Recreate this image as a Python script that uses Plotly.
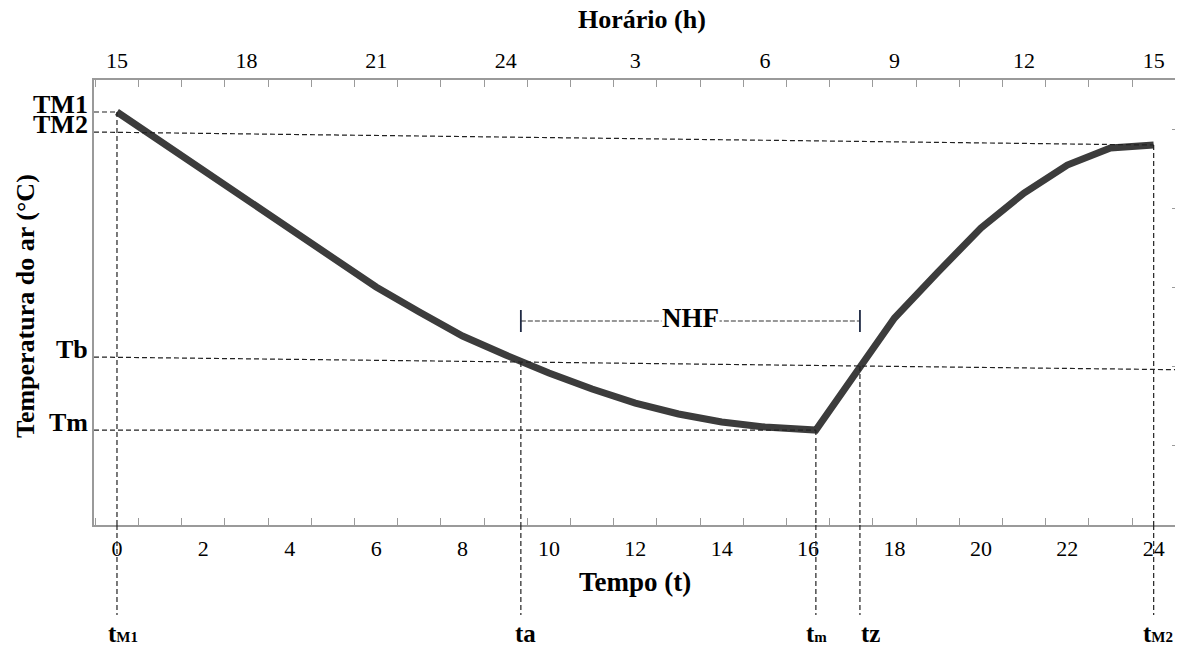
import plotly.graph_objects as go

# ---------------- data ----------------
tempo = [0, 1, 2, 3, 4, 5, 6, 7, 8, 9, 10, 11, 12, 13, 14, 15, 16, 16.18,
         17, 18, 19, 20, 21, 22, 23, 24]
temperatura = [5.215, 4.848, 4.482, 4.116, 3.737, 3.371, 3.005, 2.689, 2.386,
               2.146, 1.919, 1.717, 1.540, 1.402, 1.301, 1.237, 1.206, 1.199,
               1.836, 2.614, 3.190, 3.750, 4.192, 4.545, 4.760, 4.798]

bottom_tickvals = [0, 2, 4, 6, 8, 10, 12, 14, 16, 18, 20, 22, 24]
bottom_ticktext = [str(v) for v in bottom_tickvals]
top_tickvals = [0, 3, 6, 9, 12, 15, 18, 21, 24]
top_ticktext = ["15", "18", "21", "24", "3", "6", "9", "12", "15"]
minor_tickvals = [i + 0.5 for i in range(-1, 25)]
right_tickvals = [1, 2, 3, 4, 5]

# characteristic times
t_M1, t_a, t_m, t_z, t_M2 = 0.0, 9.35, 16.18, 17.2, 24.0
# characteristic temperature levels
TM1 = 5.215
TM2_left = 4.962
Tb_left, Tb_right = 2.121, 1.961
Tm = 1.199
NHF_level = 2.576
NHF_bar = (2.437, 2.715)

xmin, xmax = -0.532, 24.54
ymin, ymax = 0.0, 5.619

labels_y = ["TM1", "TM2", "Tb", "Tm"]
labels_y_vals = [TM1, TM2_left, Tb_left, Tm]
labels_t = ["t<span style='font-size:15px'>M1</span>", "ta",
            "t<span style='font-size:15px'>m</span>", "tz",
            "t<span style='font-size:15px'>M2</span>"]
labels_t_vals = [t_M1, t_a, t_m, t_z, t_M2]
labels_t_shift = [6, 5, 1, 11, 4]   # pixel nudges, as in the reference

SERIF = "Liberation Serif"
GRAY = "#9a9a9a"
DASH = dict(color="#222222", width=1.2, dash="5px,3px")


def tb_at(t):
    return Tb_left + (Tb_right - Tb_left) * (t - xmin) / (xmax - xmin)


fig = go.Figure()
fig.add_trace(go.Scatter(x=tempo, y=temperatura, mode="lines",
                         line=dict(color="#3c3c3c", width=7),
                         showlegend=False, hoverinfo="skip"))
fig.add_trace(go.Scatter(x=tempo, y=temperatura, mode="lines", xaxis="x2",
                         line=dict(width=0), opacity=0,
                         showlegend=False, hoverinfo="skip"))

shapes = []
# horizontal reference lines
shapes.append(dict(type="line", xref="x", yref="y", x0=xmin, x1=t_M1,
                   y0=TM1, y1=TM1, line=DASH))
shapes.append(dict(type="line", xref="x", yref="y", x0=xmin, x1=t_M2,
                   y0=TM2_left, y1=temperatura[-1], line=DASH))
shapes.append(dict(type="line", xref="x", yref="y", x0=xmin, x1=xmax,
                   y0=Tb_left, y1=Tb_right, line=DASH))
shapes.append(dict(type="line", xref="x", yref="y", x0=xmin, x1=t_m,
                   y0=Tm, y1=Tm, line=DASH))
# vertical reference lines
tops = [TM1, tb_at(t_a), Tm, tb_at(t_z), temperatura[-1]]
for t, top in zip(labels_t_vals, tops):
    shapes.append(dict(type="line", xref="x", yref="y", x0=t, x1=t,
                       y0=top, y1=ymin, line=DASH))
    shapes.append(dict(type="line", xref="x", yref="paper", x0=t, x1=t,
                       y0=0, y1=-0.202, line=DASH))
# NHF bracket
shapes.append(dict(type="line", xref="x", yref="y", x0=t_a, x1=t_z,
                   y0=NHF_level, y1=NHF_level,
                   line=dict(color="#333333", width=1.2, dash="5px,2px")))
for t in (t_a, t_z):
    shapes.append(dict(type="line", xref="x", yref="y", x0=t, x1=t,
                       y0=NHF_bar[0], y1=NHF_bar[1],
                       line=dict(color="#1f2a44", width=1.8)))
for s in shapes:
    s["layer"] = "above"

annotations = []
for txt, v in zip(labels_y, labels_y_vals):
    annotations.append(dict(text=f"<b>{txt}</b>", xref="paper", yref="y",
                            x=-0.0037, y=v, xanchor="right", yanchor="middle",
                            yshift=8, showarrow=False,
                            font=dict(family=SERIF, size=26, color="black")))
for txt, t, dx in zip(labels_t, labels_t_vals, labels_t_shift):
    annotations.append(dict(text=f"<b>{txt}</b>", xref="x", yref="paper",
                            x=t, y=-0.243, xanchor="center", yanchor="middle",
                            xshift=dx, showarrow=False,
                            font=dict(family=SERIF, size=25, color="black")))
annotations.append(dict(text="<b>NHF</b>", xref="x", yref="y",
                        x=(t_a + t_z) / 2, y=NHF_level, xanchor="center",
                        yanchor="middle", yshift=3, showarrow=False,
                        bgcolor="white", borderpad=0,
                        font=dict(family=SERIF, size=27, color="black")))
annotations.append(dict(text="<b>Tempo (t)</b>", xref="paper", yref="paper",
                        x=0.4995, y=-0.128, xanchor="center", yanchor="middle",
                        showarrow=False,
                        font=dict(family=SERIF, size=27, color="black")))
annotations.append(dict(text="<b>Horário (h)</b>", xref="paper", yref="paper",
                        x=0.506, y=1.137, xanchor="center", yanchor="middle",
                        showarrow=False, borderpad=0,
                        font=dict(family=SERIF, size=26, color="black")))
annotations.append(dict(text="<b>Temperatura do ar (°C)</b>", xref="paper",
                        yref="paper", x=-0.0637, y=0.492, xanchor="center",
                        yanchor="middle", textangle=-90, showarrow=False,
                        font=dict(family=SERIF, size=26, color="black")))

# The page body has an 8px margin, so the figure is sized to fit after it.
fig.update_layout(
    width=1175, height=640,
    margin=dict(l=86, r=6, t=72, b=123),
    paper_bgcolor="white", plot_bgcolor="white",
    shapes=shapes, annotations=annotations,
    xaxis=dict(range=[xmin, xmax], tickmode="array", tickvals=bottom_tickvals,
               ticktext=bottom_ticktext, ticks="", showgrid=False,
               zeroline=False, showline=True, linecolor=GRAY, linewidth=1.5,
               mirror=True, ticklabelstandoff=3,
               tickfont=dict(family=SERIF, size=22, color="black"),
               minor=dict(tickmode="array", tickvals=minor_tickvals,
                          ticks="inside", ticklen=7, tickcolor=GRAY,
                          tickwidth=1, showgrid=False)),
    xaxis2=dict(range=[xmin, xmax], overlaying="x", side="top", anchor="y",
                tickmode="array", tickvals=top_tickvals,
                ticktext=top_ticktext, ticks="", showgrid=False,
                zeroline=False, showline=True, linecolor=GRAY, linewidth=1.5,
                ticklabelstandoff=1,
                tickfont=dict(family=SERIF, size=22, color="black"),
                minor=dict(tickmode="array", tickvals=minor_tickvals,
                           ticks="inside", ticklen=7, tickcolor=GRAY,
                           tickwidth=1, showgrid=False)),
    yaxis=dict(range=[ymin, ymax], side="right", tickmode="array",
               tickvals=right_tickvals, ticks="inside", ticklen=5,
               tickcolor=GRAY, showticklabels=False, showgrid=False,
               zeroline=False, showline=True, linecolor=GRAY, linewidth=1.5,
               mirror=True),
)

fig.write_html("out.html")
